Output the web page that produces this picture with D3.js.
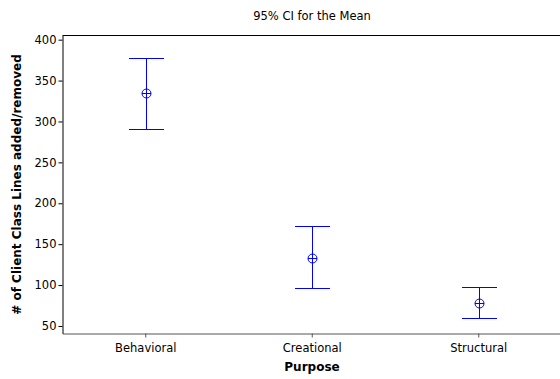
<!DOCTYPE html>
<html>
<head>
<meta charset="utf-8">
<script src="https://cdn.jsdelivr.net/npm/d3@7"></script>
<style>
  body { margin: 0; background: #fff; }
  text { font-family: "DejaVu Sans", sans-serif; }
</style>
</head>
<body>
<svg id="chart" width="560" height="379"></svg>
<script>
// group names and CI values
const purposes = ["Behavioral", "Creational", "Structural"];
const means = [334.7, 133.4, 77.7];
const lower = [290.2, 96.4, 59.4];
const upper = [378.2, 172.2, 97.4];
const yTicks = [50, 100, 150, 200, 250, 300, 350, 400];

const svg = d3.select("#chart");
const mLeft = 62.5, mTop = 35.5, mRight = 562, mBottom = 333.5;
const blue = "#0000ff";

const x = d3.scaleBand().domain(purposes).range([mLeft, mRight]);
const y = d3.scaleLinear().domain([40.8, 405.1]).range([mBottom, mTop]);

// frame (top + left in black, no right edge visible)
svg.append("line").attr("x1", mLeft).attr("x2", 560).attr("y1", mTop).attr("y2", mTop)
    .attr("stroke", "#000");

// y axis
const yAxis = svg.append("g")
    .attr("transform", `translate(${mLeft},0)`)
    .call(d3.axisLeft(y).tickValues(yTicks).tickSize(4).tickPadding(2).tickSizeOuter(0));
yAxis.select(".domain").attr("stroke", "#000");
yAxis.selectAll(".tick line").attr("stroke", "#000");
yAxis.selectAll("text").attr("font-size", 11.5).attr("fill", "#000");

// x axis
const xAxis = svg.append("g")
    .attr("transform", `translate(0,${mBottom})`)
    .call(d3.axisBottom(x).tickSize(4).tickPadding(6).tickSizeOuter(0));
xAxis.select(".domain").attr("stroke", "#555");
xAxis.selectAll(".tick line").attr("stroke", "#555");
xAxis.selectAll("text").attr("font-size", 11.5).attr("fill", "#000");

const rows = purposes.map((p, i) => ({p: p, m: means[i], lo: lower[i], hi: upper[i]}));
const cx = d => Math.round(x(d.p) + x.bandwidth() / 2) + 0.5;
const py = v => Math.round(y(v)) + 0.5;
const capW = 17.5;

const g = svg.append("g").attr("class", "ci");

function seg(cls, x1, x2, y1, y2) {
    g.selectAll("line." + cls).data(rows).join("line")
        .attr("class", cls)
        .attr("x1", x1).attr("x2", x2).attr("y1", y1).attr("y2", y2)
        .attr("stroke", blue).attr("stroke-width", 1);
}

seg("stem", cx, cx, d => py(d.hi), d => py(d.lo));
seg("capTop", d => cx(d) - capW, d => cx(d) + capW, d => py(d.hi), d => py(d.hi));
seg("capBot", d => cx(d) - capW, d => cx(d) + capW, d => py(d.lo), d => py(d.lo));
seg("meanH", d => cx(d) - 4.5, d => cx(d) + 4.5, d => py(d.m), d => py(d.m));

// mean marker: circle with cross
g.selectAll("circle.meanC").data(rows).join("circle")
    .attr("class", "meanC")
    .attr("cx", cx).attr("cy", d => py(d.m)).attr("r", 4.5)
    .attr("fill", "none").attr("stroke", blue);

// titles
svg.append("text").attr("x", 312).attr("y", 20).attr("text-anchor", "middle")
    .attr("font-size", 11.5).text("95% CI for the Mean");

svg.append("text").attr("x", 312).attr("y", 371).attr("text-anchor", "middle")
    .attr("font-size", 12).attr("font-weight", "bold").text("Purpose");

svg.append("text")
    .attr("transform", `translate(21,${(mTop + mBottom) / 2}) rotate(-90)`)
    .attr("text-anchor", "middle")
    .attr("font-size", 12).attr("font-weight", "bold")
    .text("# of Client Class Lines added/removed");
</script>
</body>
</html>
